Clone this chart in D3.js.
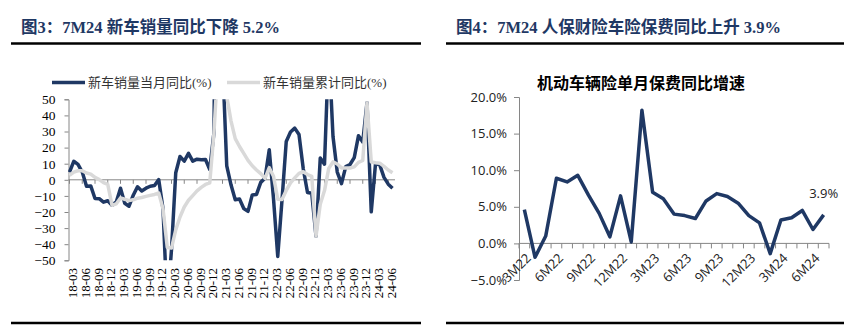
<!DOCTYPE html>
<html>
<head>
<meta charset="utf-8">
<script src="https://cdn.jsdelivr.net/npm/d3@7"></script>
<style>
  body { margin: 0; background: #fff; }
  svg { display: block; }
</style>
</head>
<body>
<svg id="chart" width="844" height="327"></svg>
<script>
// ---- Figure 3: new-vehicle sales YoY (%), monthly from 2018-03 to 2024-07 ----
const salesMonths = [
  "18-03","18-04","18-05","18-06","18-07","18-08","18-09","18-10","18-11","18-12",
  "19-01","19-02","19-03","19-04","19-05","19-06","19-07","19-08","19-09","19-10","19-11","19-12",
  "20-01","20-02","20-03","20-04","20-05","20-06","20-07","20-08","20-09","20-10","20-11","20-12",
  "21-01","21-02","21-03","21-04","21-05","21-06","21-07","21-08","21-09","21-10","21-11","21-12",
  "22-01","22-02","22-03","22-04","22-05","22-06","22-07","22-08","22-09","22-10","22-11","22-12",
  "23-01","23-02","23-03","23-04","23-05","23-06","23-07","23-08","23-09","23-10","23-11","23-12",
  "24-01","24-02","24-03","24-04","24-05","24-06","24-07"
];
// 新车销量当月同比(%)
const salesMonthlyYoY = [
  4.7, 11.5, 9.6, 4.8, -4.0, -3.8, -11.6, -11.7, -13.9, -13.0,
  -15.8, -13.8, -5.2, -14.6, -16.4, -9.6, -4.3, -6.9, -5.2, -4.0, -3.6, 0.1,
  -18.0, -79.1, -43.3, 4.4, 14.5, 11.6, 16.4, 11.6, 12.8, 12.5, 12.6, 6.4,
  29.5, 364.6, 74.9, 8.6, -3.1, -12.4, -11.9, -17.8, -19.6, -9.4, -9.1, -1.6,
  0.9, 18.7, -11.7, -47.6, -12.6, 23.8, 29.7, 32.1, 28.1, 6.9, -7.9, -8.4,
  -35.0, 13.5, 9.7, 82.7, 26.9, 4.8, -2.4, 8.2, 9.5, 13.8, 27.4, 23.5,
  47.9, -19.9, 9.9, 9.3, 1.5, -2.7, -5.2
];
// 新车销量累计同比(%)
const salesCumulativeYoY = [
  2.8, 4.8, 5.6, 5.6, 4.2, 3.5, 1.5, 0.1, -1.7, -2.8,
  -15.8, -14.9, -11.3, -12.1, -12.9, -12.4, -11.4, -11.0, -10.3, -9.7, -9.1, -8.2,
  -18.0, -42.0, -42.4, -31.1, -23.1, -16.9, -12.7, -9.8, -6.9, -4.7, -2.9, -1.9,
  29.5, 76.0, 75.6, 51.8, 36.6, 25.6, 20.7, 16.4, 12.1, 8.7, 6.1, 3.8,
  0.9, 7.5, 2.2, -12.1, -12.2, -6.6, -1.9, 1.2, 4.0, 5.0, 3.3, 2.1,
  -35.0, -15.2, -6.7, 7.1, 11.1, 9.8, 7.4, 7.4, 7.3, 8.0, 10.8, 12.0,
  47.9, 11.1, 10.6, 10.3, 8.3, 6.1, 4.4
];
const salesYTicks = [-50, -40, -30, -20, -10, 0, 10, 20, 30, 40, 50];
const salesXTickLabels = salesMonths.filter(m => ["03","06","09","12"].includes(m.slice(3)));
const salesSeriesNames = ["新车销量当月同比(%)", "新车销量累计同比(%)"];

// ---- Figure 4: PICC P&C motor premium, single-month YoY ----
const premiumMonths = [
  "3M22","4M22","5M22","6M22","7M22","8M22","9M22","10M22","11M22","12M22",
  "1M23","2M23","3M23","4M23","5M23","6M23","7M23","8M23","9M23","10M23","11M23","12M23",
  "1M24","2M24","3M24","4M24","5M24","6M24","7M24"
];
const premiumYoY = [
  0.046, -0.019, 0.010, 0.089, 0.084, 0.093, 0.066, 0.041, 0.009, 0.065,
  0.002, 0.182, 0.070, 0.061, 0.040, 0.038, 0.034, 0.058, 0.068, 0.064, 0.055, 0.038,
  0.028, -0.014, 0.032, 0.035, 0.045, 0.019, 0.039
];
const premiumYTicks = [-0.05, 0, 0.05, 0.10, 0.15, 0.20];
const premiumXTickLabels = ["3M22","6M22","9M22","12M22","3M23","6M23","9M23","12M23","3M24","6M24"];

const NAVY = "#1f3864";
const LIGHT = "#d9d9d9";
const AXIS = "#868686";
const SERIF = "'Liberation Serif','Times New Roman','Noto Sans CJK SC',serif";
const SANS = "'Open Sans','Noto Sans','Noto Sans CJK SC',sans-serif";

const svg = d3.select("#chart");
svg.append("rect").attr("width", 844).attr("height", 327).attr("fill", "#fff");

// ---- Panel headers and rules ----
const headers = [
  { text: "图3：7M24 新车销量同比下降 5.2%", x: 21, x0: 11, x1: 421 },
  { text: "图4：7M24 人保财险车险保费同比上升 3.9%", x: 456, x0: 446, x1: 844 }
];
headers.forEach(h => {
  svg.append("text")
    .attr("x", h.x).attr("y", 33)
    .attr("font-family", SERIF).attr("font-weight", "bold").attr("font-size", 16.5)
    .attr("fill", NAVY)
    .text(h.text);
  svg.append("line").attr("x1", h.x0).attr("x2", h.x1).attr("y1", 43.5).attr("y2", 43.5)
    .attr("stroke", "#000").attr("stroke-width", 2.5);
  svg.append("line").attr("x1", h.x0).attr("x2", h.x1).attr("y1", 323).attr("y2", 323)
    .attr("stroke", "#000").attr("stroke-width", 2.5);
});

// ================= Left: sales YoY =================
const xL = d3.scalePoint().domain(salesMonths).range([69.5, 392.5]);
const yL = d3.scaleLinear().domain([-50, 50]).range([260.3, 99.3]);
const left = svg.append("g");

left.append("clipPath").attr("id", "plotL")
  .append("rect").attr("x", 60).attr("y", yL(50)).attr("width", 345).attr("height", yL(-50) - yL(50));

// y axis
const yAxisL = d3.axisLeft(yL).tickValues(salesYTicks).tickSize(4).tickPadding(9).tickFormat(d3.format("d"));
left.append("g").attr("transform", "translate(68.5,0)").call(yAxisL)
  .call(g => {
    g.select(".domain").attr("stroke", AXIS);
    g.selectAll(".tick line").attr("stroke", AXIS);
    g.selectAll(".tick text").attr("font-family", SERIF).attr("font-size", 13.5).attr("fill", "#000");
  });

// zero line with quarterly ticks
const zeroY = yL(0);
left.append("line").attr("x1", 68.5).attr("x2", 395).attr("y1", zeroY).attr("y2", zeroY)
  .attr("stroke", AXIS).attr("stroke-width", 1);
left.append("g").selectAll("line")
  .data(salesMonths.filter((d, i) => i % 3 === 0))
  .join("line")
  .attr("x1", d => xL(d)).attr("x2", d => xL(d))
  .attr("y1", zeroY).attr("y2", zeroY + 4)
  .attr("stroke", AXIS);

// x labels along the bottom, rotated
left.append("g").selectAll("text")
  .data(salesXTickLabels)
  .join("text")
  .attr("transform", d => `translate(${xL(d) + 3},268) rotate(-90)`)
  .attr("text-anchor", "end")
  .attr("dominant-baseline", "central")
  .attr("font-family", SERIF).attr("font-size", 13).attr("fill", "#000")
  .text(d => d);

// series
const lineL = d3.line().x((d, i) => xL(salesMonths[i])).y(d => yL(d));
const plotL = left.append("g").attr("clip-path", "url(#plotL)");
plotL.append("path").datum(salesMonthlyYoY).attr("d", lineL)
  .attr("fill", "none").attr("stroke", NAVY).attr("stroke-width", 3.5).attr("stroke-linejoin", "round");
plotL.append("path").datum(salesCumulativeYoY).attr("d", lineL)
  .attr("fill", "none").attr("stroke", LIGHT).attr("stroke-width", 3.5).attr("stroke-linejoin", "round");

// legend
const legendItems = [
  { name: salesSeriesNames[0], color: NAVY, x: 52 },
  { name: salesSeriesNames[1], color: LIGHT, x: 227 }
];
const lg = left.append("g").selectAll("g").data(legendItems).join("g");
lg.append("line").attr("x1", d => d.x).attr("x2", d => d.x + 33)
  .attr("y1", 82.5).attr("y2", 82.5).attr("stroke", d => d.color).attr("stroke-width", 3.5);
lg.append("text").attr("x", d => d.x + 36).attr("y", 82.5)
  .attr("dominant-baseline", "central")
  .attr("font-family", SERIF).attr("font-size", 13).attr("fill", "#333")
  .text(d => d.name);

// ================= Right: premium YoY =================
const xR = d3.scaleBand().domain(premiumMonths).range([519, 829]);
const yR = d3.scaleLinear().domain([-0.05, 0.20]).range([280, 97]);
const right = svg.append("g");

right.append("text")
  .attr("x", 641).attr("y", 82).attr("text-anchor", "middle").attr("dominant-baseline", "central")
  .attr("font-family", "'Noto Sans CJK SC',sans-serif").attr("font-weight", "bold").attr("font-size", 16)
  .attr("fill", "#000")
  .text("机动车辆险单月保费同比增速");

const yAxisR = d3.axisLeft(yR).tickValues(premiumYTicks).tickSize(5).tickPadding(7).tickFormat(d3.format(".1%"));
right.append("g").attr("transform", "translate(519,0)").call(yAxisR)
  .call(g => {
    g.select(".domain").attr("stroke", AXIS);
    g.selectAll(".tick line").attr("stroke", AXIS);
    g.selectAll(".tick text").attr("font-family", SANS).attr("font-size", 13).attr("fill", "#222");
  });

const zeroR = yR(0);
right.append("line").attr("x1", 519).attr("x2", 829).attr("y1", zeroR).attr("y2", zeroR)
  .attr("stroke", AXIS);
// tick marks between categories
right.append("g").selectAll("line")
  .data(premiumMonths.concat([null]))
  .join("line")
  .attr("x1", d => d ? xR(d) : xR.range()[1])
  .attr("x2", d => d ? xR(d) : xR.range()[1])
  .attr("y1", zeroR).attr("y2", zeroR + 5)
  .attr("stroke", AXIS);

right.append("g").selectAll("text")
  .data(premiumXTickLabels)
  .join("text")
  .attr("transform", d => `translate(${xR(d) + xR.bandwidth() / 2 + 4},${zeroR + 12}) rotate(-45)`)
  .attr("text-anchor", "end")
  .attr("dominant-baseline", "central")
  .attr("font-family", SANS).attr("font-size", 13).attr("fill", "#222")
  .text(d => d);

const lineR = d3.line().x((d, i) => xR(premiumMonths[i]) + xR.bandwidth() / 2).y(d => yR(d));
right.append("path").datum(premiumYoY).attr("d", lineR)
  .attr("fill", "none").attr("stroke", NAVY).attr("stroke-width", 3.5).attr("stroke-linejoin", "round");

// value label on the latest month
const lastIdx = premiumYoY.length - 1;
right.append("text")
  .attr("x", xR(premiumMonths[lastIdx]) + xR.bandwidth() / 2)
  .attr("y", yR(premiumYoY[lastIdx]) - 22)
  .attr("text-anchor", "middle").attr("dominant-baseline", "central")
  .attr("font-family", SANS).attr("font-size", 13).attr("fill", "#222")
  .text(d3.format(".1%")(premiumYoY[lastIdx]));
</script>
</body>
</html>
